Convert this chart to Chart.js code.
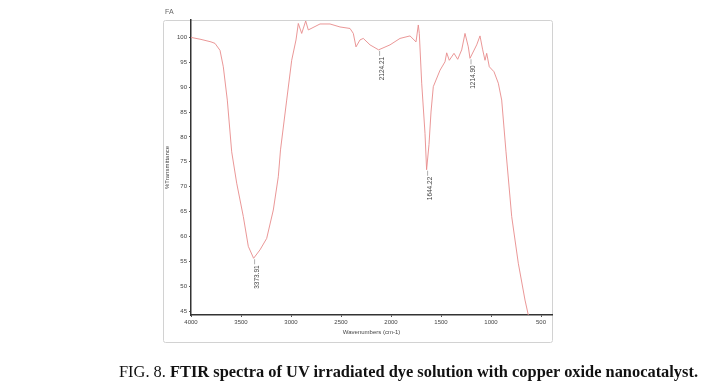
<!DOCTYPE html>
<html>
<head>
<meta charset="utf-8">
<script src="https://cdn.jsdelivr.net/npm/chart.js@4"></script>
<style>
html,body{margin:0;padding:0;background:#fff;width:717px;height:392px;overflow:hidden;}
#wrap{position:absolute;left:0;top:0;width:717px;height:392px;}
#cap{position:absolute;left:0;top:362px;width:717px;text-align:center;font-family:"Liberation Serif","Times New Roman",serif;font-size:16.4px;color:#111;white-space:nowrap;padding-left:100px;box-sizing:border-box;}
</style>
</head>
<body>
<div id="wrap"><canvas id="c" width="717" height="392"></canvas></div>
<div id="cap">FIG. 8. <b>FTIR spectra of UV irradiated dye solution with copper oxide nanocatalyst.</b></div>
<script>
// Wavenumbers (cm-1) and %Transmittance
const wavenumbers = [4000,3900,3800,3760,3710,3677,3637,3593,3543,3477,3427,3374,3310,3243,3177,3127,3105,3043,2993,2950,2927,2893,2853,2827,2710,2610,2510,2410,2377,2350,2310,2277,2210,2124,2010,1910,1810,1750,1727,1717,1693,1660,1644,1620,1600,1577,1510,1460,1443,1417,1370,1333,1293,1260,1227,1210,1143,1110,1083,1060,1043,1017,970,927,893,850,793,727,660,627];
const transmittance = [100.0,99.6,99.1,98.8,97.4,94.1,87.4,77.0,70.7,64.0,58.0,55.6,57.3,59.6,65.3,72.0,77.4,87.4,95.4,99.5,102.8,100.8,103.3,101.5,102.7,102.7,102.1,101.8,100.8,98.1,99.5,99.8,98.5,97.5,98.5,99.8,100.3,99.1,102.5,100.8,90.8,80.7,73.4,78.5,85.0,90.1,93.4,95.1,96.9,95.4,96.8,95.6,97.5,100.8,98.1,95.8,98.5,100.3,97.5,95.4,96.8,94.1,93.1,90.8,87.4,77.0,64.0,54.6,47.2,44.2];
const xTicks = [4000,3500,3000,2500,2000,1500,1000,500];
const yTicks = [45,50,55,60,65,70,75,80,85,90,95,100];
const peakLabels = ['3373.91','2124.21','1644.22','1214.90'];
const peakX = [3374,2124,1644,1210];
const peakY = [55.6,97.5,73.4,95.8];

const frame = {
  id:'frame',
  beforeDraw(chart){
    const ctx = chart.ctx;
    ctx.save();
    ctx.strokeStyle = '#d2d2d2';
    ctx.lineWidth = 1;
    ctx.beginPath();
    ctx.roundRect(163.5,20.5,389,322,2);
    ctx.stroke();
    ctx.fillStyle = '#666';
    ctx.font = '7px "Liberation Sans", Arial, sans-serif';
    ctx.textBaseline = 'middle';
    ctx.fillText('FA',165,12);
    ctx.restore();
  },
  afterDatasetsDraw(chart){
    const ctx = chart.ctx, xs = chart.scales.x, ys = chart.scales.y;
    ctx.save();
    ctx.font = '6.5px "Liberation Sans", Arial, sans-serif';
    ctx.fillStyle = '#444';
    ctx.strokeStyle = '#999';
    ctx.lineWidth = 0.8;
    peakLabels.forEach((t,i)=>{
      const px = xs.getPixelForValue(peakX[i]);
      const py = ys.getPixelForValue(peakY[i]);
      ctx.beginPath();
      ctx.moveTo(px+1,py+1);
      ctx.lineTo(px+1,py+6);
      ctx.stroke();
      ctx.save();
      ctx.translate(px+3.5,py+7);
      ctx.rotate(-Math.PI/2);
      ctx.textAlign='right';
      ctx.textBaseline='middle';
      ctx.fillText(t,0,0);
      ctx.restore();
    });
    ctx.restore();
  }
};

new Chart(document.getElementById('c'),{
  type:'scatter',
  data:{datasets:[{
    data: wavenumbers.map((w,i)=>({x:w,y:transmittance[i]})),
    showLine:true,
    borderColor:'rgba(232,140,140,0.9)',
    borderWidth:1,
    pointRadius:0,
    tension:0
  }]},
  options:{
    responsive:false,
    animation:false,
    events:[],
    layout:{padding:{left:163,top:20,right:165,bottom:49}},
    plugins:{legend:{display:false},tooltip:{enabled:false}},
    scales:{
      x:{
        type:'linear',reverse:true,min:390,max:4000,
        afterBuildTicks(a){a.ticks = xTicks.map(v=>({value:v}));},
        afterFit(s){s.height = 28;},
        grid:{display:true,drawOnChartArea:false,drawTicks:true,tickLength:2,color:'#555'},
        border:{display:true,color:'#333',width:1.5},
        ticks:{font:{size:6,family:'"Liberation Sans", Arial, sans-serif'},color:'#444',padding:2,maxRotation:0,autoSkip:false,callback:v=>String(v)},
        title:{display:true,text:'Wavenumbers (cm-1)',font:{size:6,family:'"Liberation Sans", Arial, sans-serif'},color:'#444',padding:{top:1,bottom:7}}
      },
      y:{
        type:'linear',min:44.2,max:103.5,
        afterBuildTicks(a){a.ticks = yTicks.map(v=>({value:v}));},
        afterFit(s){s.width = 28;},
        grid:{display:true,drawOnChartArea:false,drawTicks:true,tickLength:2,color:'#555'},
        border:{display:true,color:'#333',width:1.5},
        ticks:{font:{size:6,family:'"Liberation Sans", Arial, sans-serif'},color:'#444',padding:2,autoSkip:false,callback:v=>String(v)},
        title:{display:true,text:'%Transmittance',font:{size:6,family:'"Liberation Sans", Arial, sans-serif'},color:'#444',padding:{top:1,bottom:1}}
      }
    }
  },
  plugins:[frame]
});
</script>
</body>
</html>
